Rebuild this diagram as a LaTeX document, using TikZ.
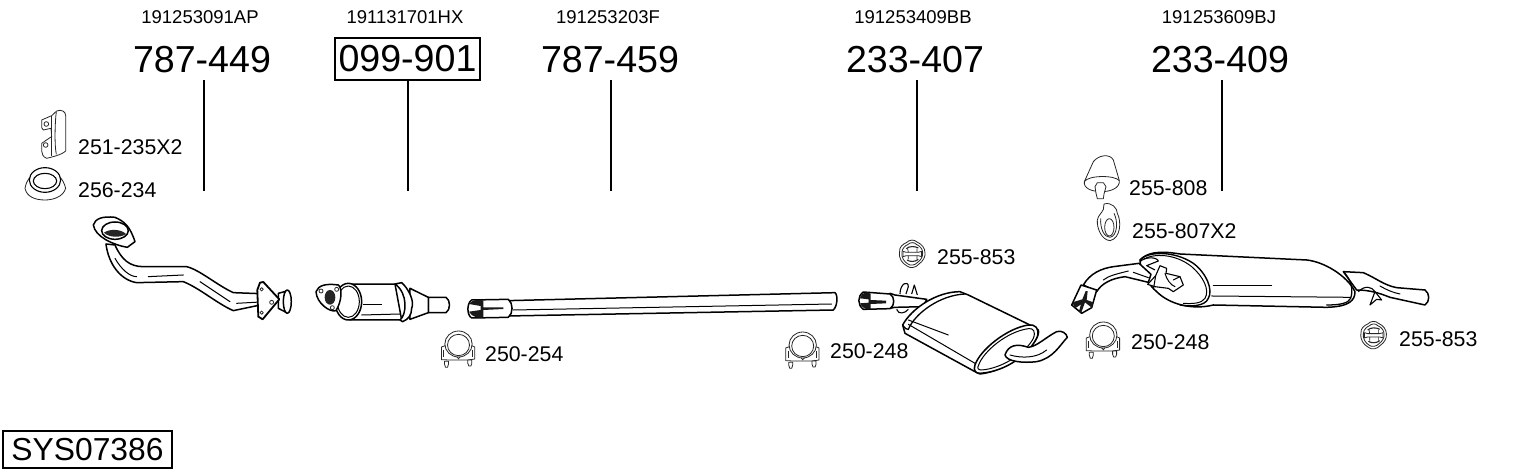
\documentclass[tikz,border=0pt]{standalone}
\usepackage{fontspec}
\setmainfont{Liberation Sans}
\newcommand{\bigfs}{\fontsize{37.6}{40}\selectfont}
\newcommand{\smfs}{\fontsize{18.5}{20}\selectfont}
\newcommand{\lblfs}{\fontsize{21.3}{23}\selectfont}
\tikzset{
 x=1pt,y=-1pt,
 pn/.style={inner sep=0pt,minimum height=41pt,font=\bigfs},
 oem/.style={inner sep=0pt,font=\smfs},
 lbl/.style={inner sep=0pt,anchor=west,font=\lblfs},
 leader/.style={draw=black,line width=1.5pt},
 part/.style={draw=black,fill=white,line width=1.5pt,line join=round},
 thin part/.style={draw=black!85,fill=white,line width=.8pt,line join=round},
 edge/.style={draw=black,line width=1pt,line cap=round},
 zoomed/.style={x=.3333pt,y=-.3333pt},
 pics/clamp/.style={code={
  \path[thin part,zoomed] (-51,9) -- (-40,5) -- (-28,14) -- (0,44) -- (28,14) -- (40,5) -- (49,9) -- (49,45) -- (28,48) -- (-28,48) -- (-51,47) -- cycle;
  \path[thin part,zoomed] (-42,52) -- (-30,52) -- (-30,60) -- (-33,70) -- (-39,70) -- (-42,60) -- cycle;
  \path[thin part,zoomed] (28,48) -- (40,48) -- (40,58) -- (37,66) -- (31,66) -- (28,58) -- cycle;
  \path[thin part,zoomed] (0,0) ellipse (41 and 39);
  \path[thin part,zoomed] (0,3) ellipse (33 and 32);
  \draw[thin part,fill=none,zoomed] (-44,18) -- (-44,38);
  \draw[thin part,fill=none,zoomed] (42,18) -- (42,38);
 }},
 pics/hanger/.style={code={
  \path[thin part,zoomed] (-38,-8) .. controls (-40,-20) and (-28,-30) .. (-18,-34) .. controls (-8,-44) and (6,-44) .. (14,-36) .. controls (28,-30) and (38,-18) .. (38,-4) .. controls (40,8) and (32,22) .. (20,30) .. controls (10,42) and (-6,44) .. (-16,36) .. controls (-30,28) and (-42,14) .. (-38,-8) -- cycle;
  \draw[thin part,fill=none,zoomed] (-31,-6) .. controls (-30,-18) and (-20,-26) .. (-14,-28) .. controls (-6,-36) and (6,-36) .. (12,-29) .. controls (24,-24) and (31,-14) .. (31,-4) .. controls (32,8) and (26,18) .. (16,25) .. controls (8,34) and (-6,36) .. (-13,30) .. controls (-24,24) and (-34,10) .. (-31,-6);
  \draw[draw=black!85,line width=1.1pt,zoomed] (-18,-16) .. controls (-10,-24) and (8,-24) .. (18,-18);
  \draw[draw=black!85,line width=1.1pt,zoomed] (-16,18) .. controls (-8,24) and (10,24) .. (18,16);
  \draw[thin part,zoomed] (-28,-8) -- (-18,-5) -- (18,-5) -- (28,-8) -- (28,8) -- (18,5) -- (-18,5) -- (-28,8) -- cycle;
  \draw[draw=black!85,line width=.7pt,zoomed] (-12,-5) -- (-14,-16) (14,-5) -- (14,-16) (-12,5) -- (-12,16) (14,5) -- (14,16);
 }}
}
\begin{document}
\begin{tikzpicture}
\useasboundingbox (0,0) rectangle (1530,474);
% top labels
\node[oem] (o1) at (200,17) {191253091AP};
\node[oem] (o2) at (405,17) {191131701HX};
\node[oem] (o3) at (608,17) {191253203F};
\node[oem] (o4) at (913,17) {191253409BB};
\node[oem] (o5) at (1219,17) {191253609BJ};
\node[pn] (p1) at (202,59.5) {787-449};
\node[pn,draw=black,line width=1.4pt,minimum width=145pt,minimum height=42pt] (p2) at (407.5,59) {099-901};
\node[pn] (p3) at (610,59.5) {787-459};
\node[pn] (p4) at (915,59.5) {233-407};
\node[pn] (p5) at (1220,59.5) {233-409};
\coordinate (e1) at (204,191);
\coordinate (e2) at (408,191);
\coordinate (e3) at (611,191);
\coordinate (e4) at (917,191);
\coordinate (e5) at (1222,191);
\draw[leader] (p1.south -| e1) -- (e1);
\draw[leader] (p2.south -| e2) -- (e2);
\draw[leader] (p3.south -| e3) -- (e3);
\draw[leader] (p4.south -| e4) -- (e4);
\draw[leader] (p5.south -| e5) -- (e5);
\node[lbl] (l1) at (78,147) {251-235X2};
\node[lbl] (l2) at (78,190) {256-234};
\node[lbl] (l3) at (485,354) {250-254};
\node[lbl] (l4) at (830,351) {250-248};
\node[lbl] (l5) at (937,257) {255-853};
\node[lbl] (l6) at (1129,188) {255-808};
\node[lbl] (l7) at (1132,231) {255-807X2};
\node[lbl] (l8) at (1131,342) {250-248};
\node[lbl] (l9) at (1399,339) {255-853};
\node[draw=black,line width=1.4pt,inner sep=0pt,minimum width=169pt,minimum height=37pt,font=\fontsize{31.8}{34}\selectfont] (sys) at (87.5,449.5) {SYS07386};
% accessories
\pic at (458.5,344) {clamp};
\pic at (802.7,345) {clamp};
\pic at (1103.3,335) {clamp};
\pic at (912.3,254) {hanger};
\pic at (1373.7,335.3) {hanger};
% bracket 251-235
\begin{scope}[shift={(15,95)},zoomed]
\path[thin part] (110,62) -- (125,48) .. controls (140,42) and (152,50) .. (152,62) -- (152,168) .. controls (140,180) and (110,186) .. (95,190) .. controls (85,186) and (80,178) .. (80,168) -- (80,145) -- (105,128) -- (110,125) -- (108,100) -- (85,105) -- (80,98) -- (80,75) -- cycle;
\draw[thin part,fill=none] (110,62) -- (110,182);
\draw[thin part,fill=none] (124,50) .. controls (120,80) and (118,150) .. (124,178);
\draw[thin part] (94,87) circle (7);
\draw[thin part] (92,150) circle (7);
\end{scope}
% ring 256-234
\begin{scope}[shift={(0,90)},zoomed]
\path[thin part] (75,295) .. controls (80,265) and (100,245) .. (135,240) .. controls (170,245) and (190,265) .. (197,295) .. controls (190,320) and (160,330) .. (135,330) .. controls (105,330) and (80,320) .. (75,295) -- cycle;
\path[thin part,draw=black,line width=1.1pt] (135,270) ellipse (47 and 37);
\path[thin part,draw=black,line width=1.1pt] (135,273) ellipse (35 and 23);
\end{scope}
% bell 255-808 and ring 255-807
\begin{scope}[shift={(1060,150)},zoomed]
\path[thin part] (100,35) .. controls (115,15) and (150,10) .. (160,30) -- (178,92) .. controls (180,115) and (150,125) .. (125,125) .. controls (95,125) and (70,115) .. (73,95) -- cycle;
\draw[thin part,fill=none] (73,95) .. controls (85,75) and (165,75) .. (178,92);
\path[thin part] (105,110) -- (112,98) -- (130,98) -- (138,110) -- (132,132) -- (130,146) -- (112,146) -- (108,130) -- cycle;
\path[thin part] (132,162) .. controls (155,155) and (172,175) .. (172,190) .. controls (185,215) and (182,265) .. (150,272) .. controls (125,270) and (110,235) .. (112,210) .. controls (115,195) and (125,190) .. (130,178) -- cycle;
\draw[thin part,fill=none] (122,205) .. controls (120,235) and (132,262) .. (150,262) .. controls (172,258) and (175,215) .. (162,190);
\path[thin part] (148,232) ellipse (14 and 26);
\end{scope}
% front pipe
\begin{scope}[shift={(0,90)},zoomed]
\path[part] (345,465) .. controls (365,510) and (390,530) .. (430,530) -- (560,530) .. controls (600,540) and (650,585) .. (700,608) -- (805,612) -- (805,640) -- (700,662) .. controls (650,640) and (600,595) .. (550,575) -- (410,578) .. controls (360,570) and (325,520) .. (318,462) -- cycle;
\draw[edge] (345,505) .. controls (365,540) and (390,560) .. (410,560);
\draw[edge] (445,560) -- (550,555);
\draw[edge] (600,575) -- (690,635);
\draw[edge] (710,640) -- (800,635);
\path[part] (835,610) -- (865,602) -- (860,668) -- (835,655) -- cycle;
\path[part] (862,635) ellipse (12 and 35);
\path[part,line width=1.8pt] (780,578) -- (790,576) -- (838,628) -- (788,688) -- (775,680) -- (772,600) -- cycle;
\draw[thin part] (785,598) circle (5);
\draw[thin part] (815,637) circle (6);
\draw[thin part] (785,668) circle (5);
\path[part] (280,405) .. controls (285,385) and (310,378) .. (345,382) .. controls (375,395) and (390,410) .. (405,455) -- (382,472) .. controls (340,465) and (285,440) .. (280,405) -- cycle;
\path[part] (345,422) ellipse (40 and 26);
\fill[black!85] (312,428) .. controls (330,415) and (365,418) .. (378,432) .. controls (360,445) and (325,442) .. (312,428) -- cycle;
\end{scope}
% catalyst
\begin{scope}[shift={(300,260)},zoomed]
\path[part] (385,112) -- (438,112) .. controls (452,120) and (452,150) .. (438,158) -- (385,158) -- cycle;
\path[part] (330,85) -- (385,112) -- (385,158) -- (330,178) -- cycle;
\path[part] (150,72) -- (285,72) -- (305,180) -- (150,180) -- cycle;
\path[part] (285,72) -- (305,68) .. controls (325,85) and (345,125) .. (335,145) .. controls (335,165) and (325,178) .. (308,185) -- (300,180) .. controls (320,165) and (325,100) .. (285,72) -- cycle;
\draw[edge] (190,132) -- (245,132);
\draw[edge] (185,165) -- (300,162);
\path[part] (145,125) ellipse (40 and 55);
\path[part,line width=1pt] (145,125) ellipse (33 and 47);
\path[part] (48,95) .. controls (55,75) and (80,70) .. (115,75) .. controls (128,85) and (125,125) .. (108,152) .. controls (90,158) and (50,130) .. (48,95) -- cycle;
\fill[black!85] (90,112) ellipse (16 and 22);
\draw[thin part] (63,93) circle (6);
\draw[thin part] (110,88) circle (6);
\draw[thin part] (97,143) circle (6);
% long pipe
\path[part] (620,122) -- (1605,98) .. controls (1615,105) and (1612,140) .. (1600,150) -- (620,168) -- cycle;
\draw[edge] (640,150) -- (1595,132);
\path[part] (515,120) -- (625,118) .. controls (640,130) and (640,160) .. (625,172) -- (515,174) .. controls (500,165) and (500,130) .. (515,120) -- cycle;
\fill[black!90] (507,132) .. controls (515,118) and (545,116) .. (550,122) -- (550,142) -- (610,142) -- (610,147) -- (550,150) -- (550,172) .. controls (540,176) and (515,172) .. (507,155) -- (542,150) -- (542,138) -- cycle;
\end{scope}
% middle silencer
\begin{scope}[shift={(780,230)},zoomed]
\draw[part,fill=none,line width=1.1pt] (360,192) .. controls (360,160) and (385,150) .. (385,170) -- (378,192);
\draw[part,fill=none,line width=1.1pt] (395,192) -- (403,165) -- (412,195);
\path[part] (330,190) -- (345,195) -- (440,208) -- (430,230) -- (345,232) -- (330,235) -- cycle;
\draw[part,fill=none,line width=1.1pt] (350,238) .. controls (355,255) and (375,250) .. (385,238);
\path[part] (250,186) -- (330,192) .. controls (345,200) and (345,228) .. (330,236) -- (250,238) .. controls (232,225) and (232,198) .. (250,186) -- cycle;
\fill[black!90] (240,205) .. controls (245,185) and (265,182) .. (272,192) -- (272,210) -- (318,212) -- (318,220) -- (272,222) -- (272,238) .. controls (262,240) and (245,235) .. (240,220) -- (266,218) -- (266,208) -- cycle;
\path[part] (368,285) .. controls (395,235) and (470,185) .. (540,185) -- (565,195) -- (750,285) -- (775,300) .. controls (785,330) and (700,420) .. (600,432) -- (585,425) -- (375,310) -- cycle;
\draw[edge,line width=1.3pt] (368,285) .. controls (375,295) and (380,300) .. (385,298) .. controls (405,250) and (480,195) .. (555,192);
\draw[edge] (385,270) -- (505,315);
\draw[edge] (385,283) -- (585,400);
\path[part] (585,405) .. controls (600,360) and (680,295) .. (745,285) .. controls (765,282) and (780,295) .. (772,320) .. controls (750,370) and (680,425) .. (600,430) .. controls (585,430) and (580,420) .. (585,405) -- cycle;
\draw[edge] (596,405) .. controls (610,365) and (680,305) .. (745,296) .. controls (760,293) and (768,305) .. (760,325) .. controls (740,365) and (670,415) .. (605,420) .. controls (595,420) and (590,415) .. (596,405) -- cycle;
\path[part] (675,375) .. controls (685,345) and (710,340) .. (745,352) .. controls (770,350) and (800,320) .. (830,305) .. controls (845,300) and (860,310) .. (862,322) .. controls (840,345) and (820,385) .. (770,395) .. controls (730,400) and (680,395) .. (675,375) -- cycle;
\draw[edge] (690,375) .. controls (725,385) and (770,385) .. (800,360);
\end{scope}
% rear silencer
\begin{scope}[shift={(1060,150)},zoomed]
\path[part] (850,365) -- (910,368) .. controls (950,385) and (970,405) .. (1010,413) -- (1095,420) .. controls (1110,430) and (1110,455) .. (1095,465) -- (990,442) .. controls (960,430) and (930,420) .. (890,420) -- cycle;
\draw[edge] (960,408) .. controls (980,420) and (1000,428) .. (1020,432);
\draw[part,fill=none,line width=1.1pt] (895,425) .. controls (915,405) and (935,410) .. (945,425) -- (930,465) -- (950,448) -- (965,450) -- (945,425);
\path[part] (240,330) .. controls (260,310) and (290,300) .. (360,312) -- (740,330) .. controls (790,335) and (860,375) .. (885,425) .. controls (885,450) and (870,470) .. (800,472) -- (460,465) .. controls (400,480) and (330,465) .. (290,425) .. controls (265,405) and (240,360) .. (240,330) -- cycle;
\draw[edge,line width=1.3pt] (855,370) .. controls (875,395) and (880,420) .. (872,445) .. controls (865,460) and (840,465) .. (800,465);
\draw[edge] (460,408) -- (635,408);
\draw[edge] (455,438) -- (872,442);
\draw[edge,line width=1.4pt] (240,330) .. controls (260,305) and (340,300) .. (400,340) .. controls (440,370) and (460,420) .. (445,445) .. controls (435,470) and (390,470) .. (360,465);
\draw[edge] (250,328) .. controls (280,310) and (345,310) .. (395,350) .. controls (430,380) and (450,420) .. (435,445) .. controls (425,460) and (400,462) .. (370,460);
\end{scope}
\begin{scope}[shift={(1065,245)},zoomed]
\path[part] (55,120) .. controls (75,85) and (110,70) .. (145,65) -- (222,55) -- (258,88) -- (250,112) -- (180,95) .. controls (140,100) and (110,115) .. (95,140) -- cycle;
\draw[edge] (115,105) .. controls (130,93) and (150,88) .. (190,78);
\draw[edge] (205,82) -- (250,98);
\path[part] (48,120) -- (95,135) -- (80,188) -- (50,205) -- (20,180) -- cycle;
\fill[black!90] (22,172) -- (52,163) -- (62,138) -- (68,138) -- (65,165) -- (85,172) -- (80,188) -- (60,172) -- (48,205) -- (42,198) -- (48,178) -- (30,190) -- cycle;
\path[part,line width=1.1pt] (248,118) -- (272,92) -- (285,62) -- (305,70) -- (303,85) -- (345,95) -- (355,120) -- (325,140) -- (310,130) -- (270,125) -- cycle;
\draw[edge] (272,92) -- (266,128);
\draw[edge] (300,85) .. controls (305,105) and (318,120) .. (330,125);
\draw[edge] (325,105) -- (345,95);
\draw[part,fill=none,line width=1.1pt] (225,50) .. controls (240,35) and (275,35) .. (280,48) -- (245,62) -- (270,75);
\end{scope}
\end{tikzpicture}
\end{document}
